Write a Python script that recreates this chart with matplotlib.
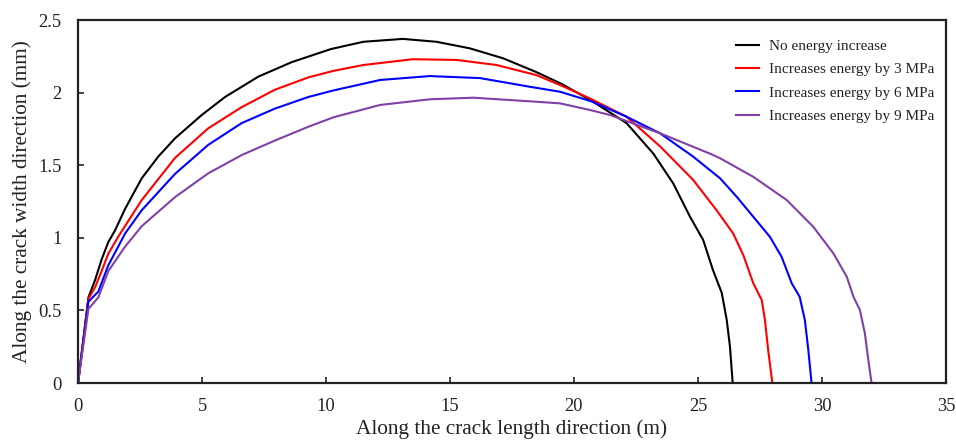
import matplotlib
matplotlib.use("Agg")
import matplotlib.pyplot as plt

plt.rcParams['font.family'] = ['Liberation Serif', 'DejaVu Serif']

labels = ["No energy increase", "Increases energy by 3 MPa",
          "Increases energy by 6 MPa", "Increases energy by 9 MPa"]
colors = ["#000000", "#ff0000", "#0000ff", "#8040a8"]

x_none = [0, 0.42, 0.69, 0.95, 1.22, 1.49, 1.90, 2.57, 3.24, 3.91, 4.99, 5.93, 7.27, 8.62,
          10.2, 11.5, 13.1, 14.46, 15.8, 17.15, 18.5, 19.5, 20.7, 22.12, 23.2, 24.0,
          24.68, 25.21, 25.6, 25.96, 26.16, 26.29, 26.4]
y_none = [0, 0.59, 0.71, 0.85, 0.97, 1.05, 1.20, 1.41, 1.56, 1.685, 1.846, 1.97, 2.11, 2.21,
          2.30, 2.35, 2.37, 2.35, 2.305, 2.236, 2.14, 2.06, 1.945, 1.79, 1.58, 1.375,
          1.145, 0.985, 0.78, 0.62, 0.434, 0.25, 0]

x_3 = [0, 0.42, 0.69, 0.95, 1.22, 1.63, 2.57, 3.91, 5.25, 6.6, 7.94, 9.29, 10.3, 11.5,
       13.5, 15.27, 16.88, 18.5, 19.6, 20.7, 22.12, 23.47, 24.8, 25.75, 26.42, 26.83,
       27.23, 27.57, 27.7, 27.83, 28.0]
y_3 = [0, 0.58, 0.66, 0.77, 0.89, 1.01, 1.26, 1.55, 1.754, 1.90, 2.02, 2.105, 2.15, 2.19,
       2.23, 2.225, 2.19, 2.12, 2.04, 1.955, 1.834, 1.63, 1.40, 1.19, 1.03, 0.88,
       0.687, 0.572, 0.434, 0.227, 0]

x_6 = [0, 0.42, 0.82, 1.22, 1.90, 2.57, 3.91, 5.25, 6.6, 7.94, 9.29, 10.3, 12.18, 14.19,
       16.21, 18.23, 19.44, 20.7, 22.12, 23.47, 24.8, 25.89, 26.56, 27.23, 27.9, 28.37,
       28.78, 29.1, 29.31, 29.45, 29.58]
y_6 = [0, 0.56, 0.63, 0.81, 1.03, 1.19, 1.44, 1.64, 1.79, 1.89, 1.97, 2.015, 2.087, 2.114,
       2.10, 2.04, 2.006, 1.94, 1.834, 1.72, 1.56, 1.41, 1.283, 1.145, 1.007, 0.87,
       0.687, 0.594, 0.434, 0.227, 0]

x_9 = [0, 0.42, 0.82, 1.22, 1.90, 2.57, 3.91, 5.25, 6.6, 7.94, 9.29, 10.3, 12.18, 14.19,
       15.94, 18.23, 19.44, 20.65, 21.45, 23.47, 25.48, 25.89, 27.23, 28.58, 29.65, 30.46,
       31.0, 31.27, 31.53, 31.73, 31.87, 32.0]
y_9 = [0, 0.51, 0.59, 0.77, 0.94, 1.08, 1.28, 1.444, 1.57, 1.67, 1.765, 1.83, 1.915, 1.954,
       1.965, 1.94, 1.926, 1.88, 1.846, 1.72, 1.58, 1.548, 1.42, 1.26, 1.076, 0.893,
       0.732, 0.594, 0.503, 0.342, 0.158, 0]

x_ticks = [0, 5, 10, 15, 20, 25, 30, 35]
y_ticks = [0, 0.5, 1, 1.5, 2, 2.5]
y_ticklabels = ["0", "0.5", "1", "1.5", "2", "2.5"]

fig = plt.figure(figsize=(9.56, 4.41), dpi=100)
ax = fig.add_axes([0.0816, 0.1315, 0.9079, 0.8231])

series = [(x_none, y_none), (x_3, y_3), (x_6, y_6), (x_9, y_9)]
for (xs, ys), c, lab in zip(series, colors, labels):
    ax.plot(xs, ys, color=c, lw=1.5, label=lab, solid_joinstyle='round')

ax.set_xlim(0, 35)
ax.set_ylim(0, 2.5)
ax.set_xticks(x_ticks)
ax.set_yticks(y_ticks)
ax.set_yticklabels(y_ticklabels)
ax.tick_params(direction='in', length=4, width=1.2, labelsize=13.3, colors='#222222')
ax.tick_params(axis='x', pad=11)
ax.tick_params(axis='y', pad=12)
for s in ax.spines.values():
    s.set_linewidth(1.6)
    s.set_color('#222222')

ax.set_xlabel("Along the crack length direction (m)", fontsize=15.3, labelpad=3, color='#222222')
ax.set_ylabel("Along the crack width direction (mm)", fontsize=15.3, labelpad=4, color='#222222')

leg = ax.legend(loc='upper right', frameon=False, fontsize=11.0, handlelength=1.5,
                handletextpad=0.7, labelspacing=0.63, bbox_to_anchor=(1.003, 0.985))
for t in leg.get_texts():
    t.set_color('#222222')

fig.savefig("out.png", dpi=100)
